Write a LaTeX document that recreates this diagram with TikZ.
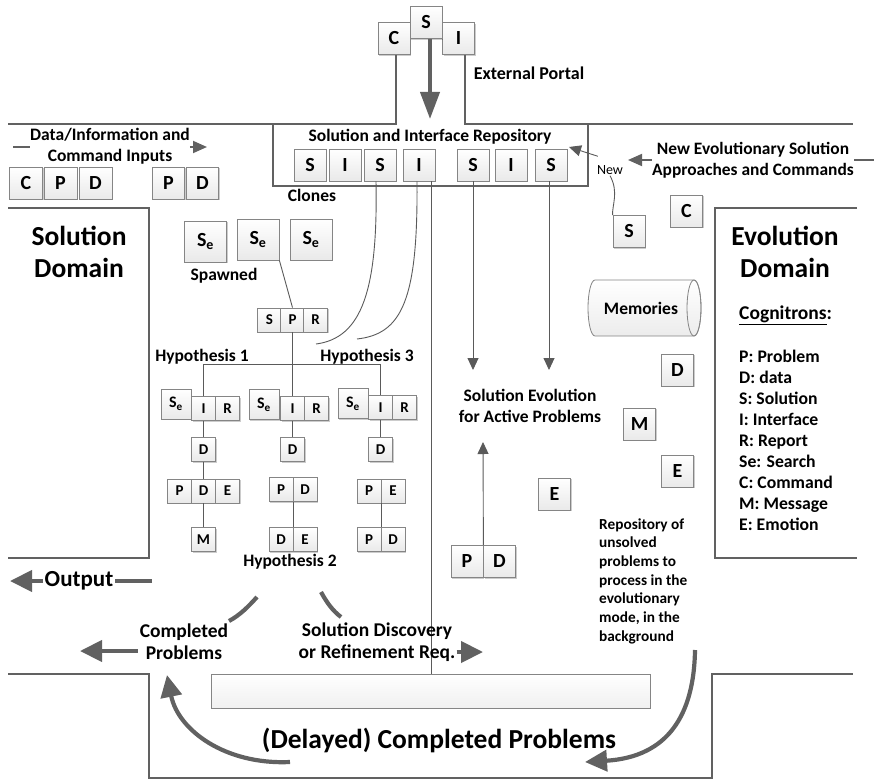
\documentclass[tikz,border=0pt]{standalone}
\usepackage{fontspec}
\setmainfont{Carlito}
\usetikzlibrary{arrows.meta,shadows}

\definecolor{framegray}{HTML}{616161}
\definecolor{edgegray}{HTML}{858585}
\definecolor{wiregray}{HTML}{5A5A5A}

\newcommand{\fsz}[2]{\fontsize{#1}{#2}\selectfont}
\newcommand{\seLabel}{S\textsubscript{e}}

\tikzset{
  frame/.style={draw=framegray, line width=2.8pt},
  wire/.style={draw=wiregray, line width=0.9pt},
  wirearrow/.style={wire, -{Triangle[length=12pt,width=11pt]}},
  midwire/.style={draw=framegray, line width=1.8pt},
  midarrow/.style={draw=framegray, line width=1.8pt, -{Triangle[length=14pt,width=12pt]}},
  fatline/.style={draw=framegray, line width=4.2pt},
  fatarrow/.style={draw=framegray, line width=4.2pt, -{Triangle[length=22pt,width=21pt]}},
  portalarrow/.style={draw=framegray, line width=4pt, -{Triangle[length=27pt,width=19pt]}},
  boxbase/.style={draw=edgegray, line width=0.8pt, top color=white, bottom color=gray!17,
    inner sep=0pt, drop shadow={shadow xshift=1.3pt, shadow yshift=-1.3pt, opacity=0.2, fill=black}},
  bigcell/.style={boxbase, minimum width=32pt, minimum height=32pt, font=\fsz{20}{24}\bfseries},
  secell/.style={boxbase, minimum width=42pt, minimum height=41pt, font=\fsz{20}{24}\bfseries},
  tinycell/.style={boxbase, minimum width=24pt, minimum height=24pt, font=\fsz{15}{18}\bfseries},
  tinyse/.style={boxbase, minimum width=30pt, minimum height=30pt, font=\fsz{16}{18}\bfseries},
  lbl/.style={font=\fsz{17.5}{21}\bfseries, inner sep=0pt, align=center},
  flowlbl/.style={font=\fsz{19.5}{22}\bfseries, inner sep=0pt, align=center},
  biglbl/.style={font=\fsz{27.5}{32}\bfseries, inner sep=0pt, align=center},
  notelbl/.style={font=\fsz{15.3}{18}\bfseries, inner sep=0pt, anchor=base west},
  keylbl/.style={font=\fsz{17.7}{21}\bfseries, inner sep=0pt, anchor=base west}
}

\begin{document}
\begin{tikzpicture}[x=1pt,y=-1pt]
\useasboundingbox (0,0) rectangle (874,781);

% ---------- walls of the two domains and the lower channel ----------
\draw[frame] (8,208) -- (149,208) -- (149,558) -- (8,558);
\draw[frame] (857,208) -- (715,208) -- (715,558) -- (857,558);
\draw[frame] (8,674) -- (149,674) -- (149,778) -- (712,778) -- (712,674) -- (853,674);

% ---------- external portal ----------
\node[bigcell] (pc) at (394,38.5) {C};
\node[bigcell] (pi) at (458.5,38.5) {I};
\node[bigcell] (ps) at (426,22.5) {S};
\draw[frame] ([xshift=2pt]pc.south) |- (8,124);
\draw[frame] ([xshift=6.5pt]pi.south) |- (853,124);
\node[lbl, font=\fsz{18}{21}\bfseries] (portal) at (529,73) {External Portal};
\coordinate (repin) at (430,119);
\draw[portalarrow] ([xshift=4pt]ps.south) -- (repin);

% ---------- solution and interface repository ----------
\draw[frame] (273,124) |- (588,186) -- (588,124);
\node[lbl] (replbl) at (430,137) {Solution and Interface Repository};
\foreach \n/\x/\t in {1/310/S,2/345/I,3/380/S,4/419/I,5/473/S,6/511/I,7/551/S}
  \node[bigcell] (r\n) at (\x,165) {\t};
\node[lbl] (clones) at (312,195) {Clones};

% ---------- inputs ----------
\node[lbl] (datalbl) at (110,146.5) {Data/Information and\\Command Inputs};
\coordinate (datain) at (13,147);
\coordinate (dataout) at (207,147);
\draw[midwire] (datain) -- (datalbl.west |- datain);
\draw[midarrow] (datalbl.east |- datain) -- (dataout);
\node[bigcell, minimum width=33pt] (inc) at (26,183) {C};
\node[bigcell, minimum width=33pt] (inp) at (60.5,183) {P};
\node[bigcell, minimum width=33pt] (ind) at (95.5,183) {D};
\node[bigcell] (inp2) at (168.5,183) {P};
\node[bigcell] (ind2) at (202.5,183) {D};

% ---------- domain titles ----------
\node[biglbl] (soldom) at (79,252) {Solution\\Domain};
\node[biglbl] (evodom) at (785,252) {Evolution\\Domain};

% ---------- cognitron key ----------
\node[keylbl, font=\fsz{19.5}{22}\bfseries] (cogtitle) at (739,319) {\underline{Cognitrons}:};
\foreach \t [count=\i from 0] in {P: Problem,D: data,S: Solution,I: Interface,R: Report,Se: Search,C: Command,M: Message,E: Emotion}
  \node[keylbl] (key\i) at (739,362+21*\i) {\t};

% ---------- new evolutionary approaches ----------
\node[lbl, font=\fsz{17.4}{21}\bfseries] (newevo) at (753,160.5) {New Evolutionary Solution\\Approaches and Commands};
\coordinate (newin) at (628,160);
\coordinate (evoright) at (874,160);
\draw[midarrow] (newevo.west |- newin) -- (newin);
\draw[midwire] (newevo.east |- evoright) -- (evoright);
\node[font=\fsz{14}{16}, inner sep=1pt] (newlbl) at (610,170) {New};
\coordinate (newtip) at (569,147);
\draw[wirearrow] ([xshift=2pt,yshift=8pt]newlbl.north west) -- (newtip);
\node[bigcell] (ns) at (629,231.5) {S};
\node[bigcell] (nc) at (686.5,211) {C};
\draw[wire] (newlbl.south) .. controls (619,192) and (612,205) .. (ns.north west);

% ---------- memories ----------
\path[draw=edgegray, line width=0.8pt, top color=white, bottom color=gray!15]
  (694,280) -- (595,280) arc[start angle=-90, end angle=-270, x radius=7, y radius=28]
  -- (694,336) arc[start angle=90, end angle=-90, x radius=7, y radius=28] -- cycle;
\draw[draw=edgegray, line width=0.8pt] (694,308) ellipse[x radius=7, y radius=28];
\node[lbl] (mem) at (641,308) {Memories};

\node[bigcell] (rd) at (677.5,370) {D};
\node[bigcell] (rm) at (639.5,424) {M};
\node[bigcell] (re) at (677.5,471) {E};
\node[bigcell] (me) at (554.5,494) {E};

% ---------- solution evolution ----------
\node[lbl] (evolbl) at (530,405.5) {Solution Evolution\\for Active Problems};
\coordinate (ev1) at (473,370);
\coordinate (ev2) at (549,370);
\draw[wirearrow] (r5.south) -- (ev1);
\draw[wirearrow] ([xshift=-2pt]r7.south) -- (ev2);
\node[bigcell] (bp) at (467,561.5) {P};
\node[bigcell] (bd) at (499.5,561.5) {D};
\coordinate (evup) at (483,442);
\draw[wirearrow] (bp.north east) -- (evup);

% ---------- repository of unsolved problems ----------
\foreach \t [count=\i from 0] in {Repository of,unsolved,problems to,process in the,evolutionary,{mode, in the},background}
  \node[notelbl] (rep\i) at (599,529+18.7*\i) {\t};

% ---------- lower bar and delayed results ----------
\node[boxbase, minimum width=439pt, minimum height=34pt, bottom color=gray!12] (bar) at (430.5,691) {};
\node[biglbl] (delayed) at (439,740) {(Delayed) Completed Problems};
\coordinate (vtop) at (431,181);
\draw[wire] (vtop) -- (vtop |- bar.north);

% clones flowing into the hypotheses
\coordinate (c3end) at (316,344);
\coordinate (c4end) at (357,339);
\draw[wire] ([xshift=-4pt]r3.south) .. controls (378,290) and (362,338) .. (c3end);
\draw[wire] ([xshift=-2pt]r4.south) .. controls (418,300) and (402,334) .. (c4end);

% ---------- spawned searches and hypotheses ----------
\node[secell] (sp1) at (205.5,241.5) {\seLabel};
\node[secell] (sp2) at (258,239.5) {\seLabel};
\node[secell] (sp3) at (311,239.5) {\seLabel};
\node[lbl] (spawned) at (224,276) {Spawned};

\node[tinycell] (sprs) at (269.5,320) {S};
\node[tinycell] (sprp) at (292.5,320) {P};
\node[tinycell] (sprr) at (315.5,320) {R};
\draw[wire] (sp2.south east) -- (sprp.north);

\node[lbl] (hyp1) at (202,357) {Hypothesis 1};
\node[lbl] (hyp3) at (367,357) {Hypothesis 3};
\node[lbl] (hyp2) at (290,562) {Hypothesis 2};
\coordinate (hypbar) at (292.5,364);

% hypothesis 1
\node[tinyse] (h1s) at (176,404) {\seLabel};
\node[tinycell] (h1i) at (203.5,408.5) {I};
\node[tinycell] (h1r) at (227.5,408.5) {R};
\node[tinycell] (h1d) at (203.5,449.5) {D};
\node[tinycell] (h1a) at (179.5,491) {P};
\node[tinycell] (h1b) at (203.5,491) {D};
\node[tinycell] (h1c) at (227.5,491) {E};
\node[tinycell] (h1m) at (203.5,539.5) {M};
% hypothesis 2
\node[tinyse] (h2s) at (264,404.5) {\seLabel};
\node[tinycell] (h2i) at (292.5,408.5) {I};
\node[tinycell] (h2r) at (316.5,408.5) {R};
\node[tinycell] (h2d) at (292.5,449.5) {D};
\node[tinycell] (h2a) at (281,489.5) {P};
\node[tinycell] (h2b) at (305,489.5) {D};
\node[tinycell] (h2c) at (281,539.5) {D};
\node[tinycell] (h2e) at (305,539.5) {E};
% hypothesis 3
\node[tinyse] (h3s) at (353,403.5) {\seLabel};
\node[tinycell] (h3i) at (380.5,407.5) {I};
\node[tinycell] (h3r) at (404.5,407.5) {R};
\node[tinycell] (h3d) at (380.5,449.5) {D};
\node[tinycell] (h3a) at (369,491) {P};
\node[tinycell] (h3b) at (393,491) {E};
\node[tinycell] (h3c) at (369,539.5) {P};
\node[tinycell] (h3e) at (393,539.5) {D};

\draw[wire] (sprp.south) -- (h2i.north);
\draw[wire] (h1i.north) -- (h1i.north |- hypbar) -- (h3i.north |- hypbar) -- (h3i.north);
\draw[wire] (h1i.south) -- (h1d.north);
\draw[wire] (h1d.south) -- (h1b.north);
\draw[wire] (h1b.south) -- (h1m.north);
\draw[wire] (h2i.south) -- (h2d.north);
\draw[wire] (h2a.south east) -- (h2c.north east);
\draw[wire] (h3i.south) -- (h3d.north);
\draw[wire] (h3a.south east) -- (h3c.north east);

% ---------- outputs ----------
\node[font=\fsz{23}{26}\bfseries, inner sep=1.5pt] (outlbl) at (79,581) {Output};
\coordinate (outsrc) at (152,581);
\coordinate (outtip) at (10,581);
\draw[fatline] (outsrc) -- (outlbl.east);
\draw[fatarrow] (outlbl.west) -- (outtip);

\node[flowlbl] (complbl) at (184,642) {Completed\\Problems};
\coordinate (comptip) at (80,651);
\draw[fatarrow] ([xshift=-2pt]complbl.west |- comptip) -- (comptip);
\coordinate (hypl) at (257,597);
\coordinate (compend) at (229,621);
\draw[fatline] (hypl) .. controls (248,607) and (240,615) .. (compend);

\node[flowlbl] (sdlbl) at (377,642.5) {Solution Discovery\\or Refinement Req.};
\coordinate (sdtip) at (483,652);
\draw[fatarrow] ([xshift=1pt]sdlbl.east |- sdtip) -- (sdtip);
\coordinate (hypr) at (321,592);
\coordinate (sdend) at (341,617);
\draw[fatline] (hypr) .. controls (327,603) and (333,611) .. (sdend);

% delayed completion loop
\coordinate (loopa) at (290,762);
\coordinate (loopb) at (167,675);
\draw[fatarrow] (loopa) .. controls (225,765) and (178,730) .. (loopb);
\coordinate (loopc) at (695,650);
\coordinate (loopd) at (585,762);
\draw[fatarrow] (loopc) .. controls (694,715) and (668,757) .. (loopd);

\end{tikzpicture}
\end{document}
